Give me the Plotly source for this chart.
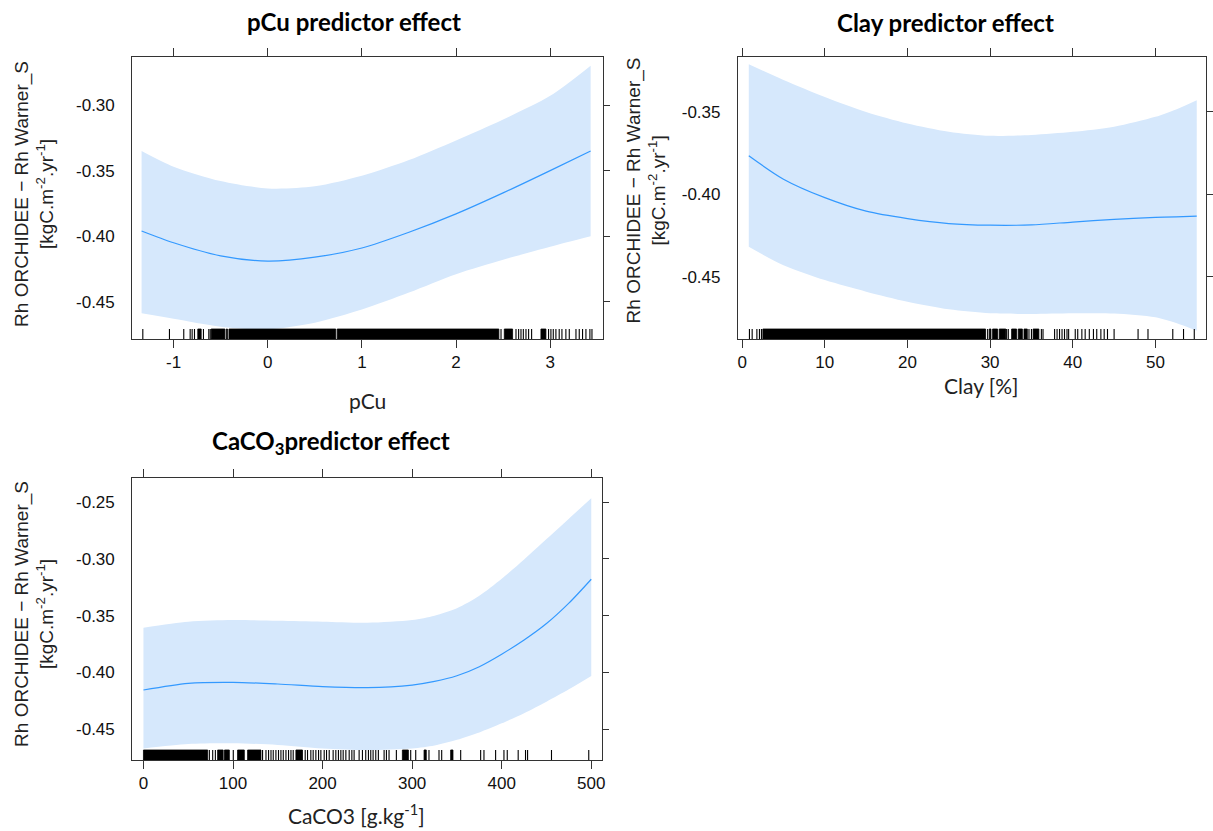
import plotly.graph_objects as go

# ---------------- data ----------------
# pCu panel
pcu_x = [-1.34, -1.0, -0.5, 0.0, 0.5, 1.0, 1.5, 2.0, 2.5, 3.0, 3.43]
pcu_fit = [-0.396, -0.405, -0.415, -0.419, -0.416, -0.409, -0.397, -0.383, -0.367, -0.350, -0.335]
pcu_upper = [-0.335, -0.347, -0.358, -0.3636, -0.362, -0.354, -0.342, -0.327, -0.311, -0.293, -0.270]
pcu_lower = [-0.4588, -0.463, -0.469, -0.471, -0.466, -0.456, -0.443, -0.429, -0.418, -0.408, -0.400]
pcu_rug_ticks = [-1.327, -1.044, -0.892, -0.824, -0.803, -0.778, -0.683, -0.626, -0.611,
                 2.478, 2.637, 2.665, 2.690, 2.715, 2.743, 2.771, 2.803, 2.983, 3.008,
                 3.033, 3.061, 3.096, 3.125, 3.167, 3.203, 3.274, 3.309, 3.344, 3.380,
                 3.422, 3.444]
pcu_rug_blocks = [(-0.743, -0.707), (-0.601, -0.455), (-0.440, -0.428), (-0.412, 0.722),
                  (0.738, 2.455), (2.513, 2.601), (2.902, 2.955)]
pcu_xticks = [-1, 0, 1, 2, 3]
pcu_yticks = [-0.30, -0.35, -0.40, -0.45]

# Clay panel
clay_x = [0.8, 5, 10, 15, 20, 25, 30, 35, 40, 45, 50, 52.5, 55]
clay_fit = [-0.3766, -0.3908, -0.402, -0.4102, -0.4147, -0.4177, -0.4187, -0.4185, -0.4168,
            -0.4152, -0.4140, -0.4136, -0.4132]
clay_upper = [-0.3211, -0.3306, -0.3409, -0.350, -0.357, -0.362, -0.3645, -0.364, -0.3621,
              -0.359, -0.353, -0.3485, -0.3429]
clay_lower = [-0.4318, -0.443, -0.452, -0.459, -0.4651, -0.4697, -0.4721, -0.4725, -0.4721,
              -0.4722, -0.4745, -0.478, -0.4827]
clay_rug_ticks = [0.88, 1.21, 1.78, 2.09, 2.33, 29.7, 32.0, 32.2, 34.7, 35.0, 36.2, 36.4,
                  37.8, 38.1, 38.4, 38.7, 39.0, 39.3, 39.5, 40.3, 40.6, 41.1, 41.5, 42.0,
                  42.5, 42.9, 43.4, 43.8, 44.2, 45.0, 47.9, 49.1, 52.1, 53.4, 54.7]
clay_rug_blocks = [(2.5, 29.45), (29.9, 30.1), (30.3, 30.9), (31.1, 31.9), (32.6, 33.2),
                   (33.4, 33.9), (34.1, 34.5), (35.2, 35.9)]
clay_xticks = [0, 10, 20, 30, 40, 50]
clay_yticks = [-0.35, -0.40, -0.45]

# CaCO3 panel
caco3_x = [0, 50, 100, 150, 200, 250, 300, 325, 350, 375, 400, 425, 450, 475, 500]
caco3_fit = [-0.4156, -0.4097, -0.4088, -0.4103, -0.4126, -0.4135, -0.4112, -0.4080, -0.4030,
             -0.3950, -0.3840, -0.3715, -0.3570, -0.3390, -0.3179]
caco3_upper = [-0.3606, -0.3553, -0.3538, -0.3545, -0.3553, -0.3562, -0.3538, -0.3500, -0.3435,
               -0.3325, -0.3175, -0.3005, -0.2825, -0.2645, -0.2465]
caco3_lower = [-0.4671, -0.4632, -0.4626, -0.4640, -0.4671, -0.4685, -0.4671, -0.4645, -0.4595,
               -0.4530, -0.4450, -0.4360, -0.4259, -0.4150, -0.4032]
caco3_rug_ticks = [73.6, 77.3, 80.3, 100.3, 133, 136.8, 139.7, 142.4, 144.9, 147.9, 150.8,
                   153.5, 156.1, 159.1, 162, 164.7, 167.2, 180.6, 183.2, 186.9, 189.5, 192.5,
                   195.5, 198.1, 201.8, 204.4, 207.4, 211.8, 214.8, 217.7, 220.4, 223, 226,
                   229.7, 232.7, 235.2, 240.8, 244.5, 248.2, 251.2, 253.8, 256.4, 259.4,
                   262.3, 268.7, 271.3, 274.2, 282.4, 298.4, 304, 318.8, 330, 333, 354.2,
                   376.5, 380.2, 393.2, 402.5, 406.2, 418.4, 426.6, 428.9, 455.6, 497.2]
caco3_rug_blocks = [(0, 71.7), (82.8, 89), (90.5, 95.9), (105.1, 112.6), (116.3, 131.2),
                    (170.2, 177.6), (289.1, 295.8), (313.3, 315.8), (343, 345.6)]
caco3_xticks = [0, 100, 200, 300, 400, 500]
caco3_yticks = [-0.25, -0.30, -0.35, -0.40, -0.45]

ylabel = "Rh ORCHIDEE \u2212 Rh Warner_S<br>[kgC.m<sup>-2</sup>.yr<sup>-1</sup>]"

# ---------------- layout helpers ----------------
W, H = 1213, 831
BAND = "rgb(214,232,252)"
LINE = "rgb(51,153,255)"
AXC = "#333333"
TICKFONT = dict(family="Liberation Sans, Arial, sans-serif", size=17, color="#111111")
TITLEFONT = dict(family="Lato, Carlito, sans-serif", size=24, color="black")
XLFONT = dict(family="Lato, Carlito, sans-serif", size=21, color="#222222")
YLFONT = dict(family="Liberation Sans, Arial, sans-serif", size=19, color="#222222")

panels = [
    dict(x=pcu_x, fit=pcu_fit, up=pcu_upper, lo=pcu_lower,
         rt=pcu_rug_ticks, rb=pcu_rug_blocks, xt=pcu_xticks, yt=pcu_yticks,
         xr=[-1.44, 3.556], yr=[-0.4784, -0.2636],
         px=(132.5, 604.0), py=(57.3, 339.0),
         title="pCu predictor effect", tpos=(355, 21),
         xlabel="pCu", xlpos=(368, 400), ylpos=(34, 194)),
    dict(x=clay_x, fit=clay_fit, up=clay_upper, lo=clay_lower,
         rt=clay_rug_ticks, rb=clay_rug_blocks, xt=clay_xticks, yt=clay_yticks,
         xr=[-0.52, 56.06], yr=[-0.4877, -0.3169],
         px=(739.7, 1208.5), py=(57.3, 339.0),
         title="Clay predictor effect", tpos=(948, 22),
         xlabel="Clay [%]", xlpos=(984, 385), ylpos=(648, 190)),
    dict(x=caco3_x, fit=caco3_fit, up=caco3_upper, lo=caco3_lower,
         rt=caco3_rug_ticks, rb=caco3_rug_blocks, xt=caco3_xticks, yt=caco3_yticks,
         xr=[-12.6, 512.0], yr=[-0.4773, -0.2289],
         px=(132.5, 603.5), py=(478.3, 760.0),
         title="CaCO<sub>3</sub>predictor effect", tpos=(332, 442),
         xlabel="CaCO3 [g.kg<sup>-1</sup>]", xlpos=(357, 814), ylpos=(34, 614)),
]

fig = go.Figure()
layout = dict(width=W, height=H, margin=dict(l=0, r=0, t=0, b=0),
              paper_bgcolor="white", plot_bgcolor="white", showlegend=False,
              annotations=[])

for i, p in enumerate(panels):
    n = i + 1
    xa = "x" if n == 1 else f"x{n}"
    ya = "y" if n == 1 else f"y{n}"
    yr_name = f"y{n + 3}"
    xkey = "xaxis" if n == 1 else f"xaxis{n}"
    ykey = "yaxis" if n == 1 else f"yaxis{n}"
    rkey = f"yaxis{n + 3}"

    xdom = [p["px"][0] / W, p["px"][1] / W]
    ydom = [1 - p["py"][1] / H, 1 - p["py"][0] / H]

    # confidence band (lower edge, then upper edge filled down to it)
    fig.add_trace(go.Scatter(x=p["x"], y=p["lo"], mode="lines",
                             line=dict(width=0, shape="spline", smoothing=0.8, color=BAND),
                             xaxis=xa, yaxis=ya, hoverinfo="skip"))
    fig.add_trace(go.Scatter(x=p["x"], y=p["up"], mode="lines", fill="tonexty",
                             fillcolor=BAND,
                             line=dict(width=0, shape="spline", smoothing=0.8, color=BAND),
                             xaxis=xa, yaxis=ya, hoverinfo="skip"))
    # fitted effect
    fig.add_trace(go.Scatter(x=p["x"], y=p["fit"], mode="lines",
                             line=dict(color=LINE, width=1.2, shape="spline", smoothing=0.8),
                             xaxis=xa, yaxis=ya))

    # rug
    span = p["yr"][1] - p["yr"][0]
    hpx = p["py"][1] - p["py"][0]
    y0 = p["yr"][0]
    h = 10.0 * span / hpx
    rx, ry = [], []
    for v in p["rt"]:
        rx += [v, v, None]
        ry += [y0, y0 + h, None]
    fig.add_trace(go.Scatter(x=rx, y=ry, mode="lines", line=dict(color="black", width=1.1),
                             xaxis=xa, yaxis=ya, hoverinfo="skip"))
    bx, by = [], []
    for a, b in p["rb"]:
        bx += [a, b, b, a, a, None]
        by += [y0, y0, y0 + h, y0 + h, y0, None]
    fig.add_trace(go.Scatter(x=bx, y=by, mode="lines", fill="toself", fillcolor="black",
                             line=dict(color="black", width=0.8),
                             xaxis=xa, yaxis=ya, hoverinfo="skip"))
    # dummy trace for right-side tick axis
    fig.add_trace(go.Scatter(x=[None], y=[None], xaxis=xa, yaxis=yr_name, hoverinfo="skip"))

    layout[xkey] = dict(domain=xdom, range=p["xr"], anchor=ya, tickvals=p["xt"],
                        ticktext=[str(v) for v in p["xt"]],
                        ticks="outside", ticklen=8, tickwidth=1, tickcolor=AXC,
                        showline=True, linecolor=AXC, linewidth=1, mirror="ticks",
                        showgrid=False, zeroline=False, tickfont=TICKFONT)
    layout[ykey] = dict(domain=ydom, range=p["yr"], anchor=xa, tickvals=p["yt"],
                        ticktext=[f"{v:.2f}" for v in p["yt"]],
                        ticks="outside", ticklen=13, tickcolor="rgba(0,0,0,0)",
                        showline=True, linecolor=AXC, linewidth=1, mirror=True,
                        showgrid=False, zeroline=False, tickfont=TICKFONT)
    layout[rkey] = dict(overlaying=ya, side="right", anchor=xa, range=p["yr"],
                        tickvals=p["yt"], ticks="outside", ticklen=6, tickwidth=1,
                        tickcolor=AXC, showticklabels=False, showline=False,
                        showgrid=False, zeroline=False)

    layout["annotations"] += [
        dict(text=f"<b>{p['title']}</b>", x=p["tpos"][0] / W, y=1 - p["tpos"][1] / H,
             xref="paper", yref="paper", xanchor="center", yanchor="middle",
             showarrow=False, font=TITLEFONT),
        dict(text=p["xlabel"], x=p["xlpos"][0] / W, y=1 - p["xlpos"][1] / H,
             xref="paper", yref="paper", xanchor="center", yanchor="middle",
             showarrow=False, font=XLFONT),
        dict(text=ylabel, x=p["ylpos"][0] / W, y=1 - p["ylpos"][1] / H,
             xref="paper", yref="paper", xanchor="center", yanchor="middle",
             textangle=-90, showarrow=False, font=YLFONT),
    ]

fig.update_layout(**layout)
fig.write_html("out.html", config={"displayModeBar": False},
               post_script="document.body.style.margin='0';document.body.style.overflow='hidden';")
